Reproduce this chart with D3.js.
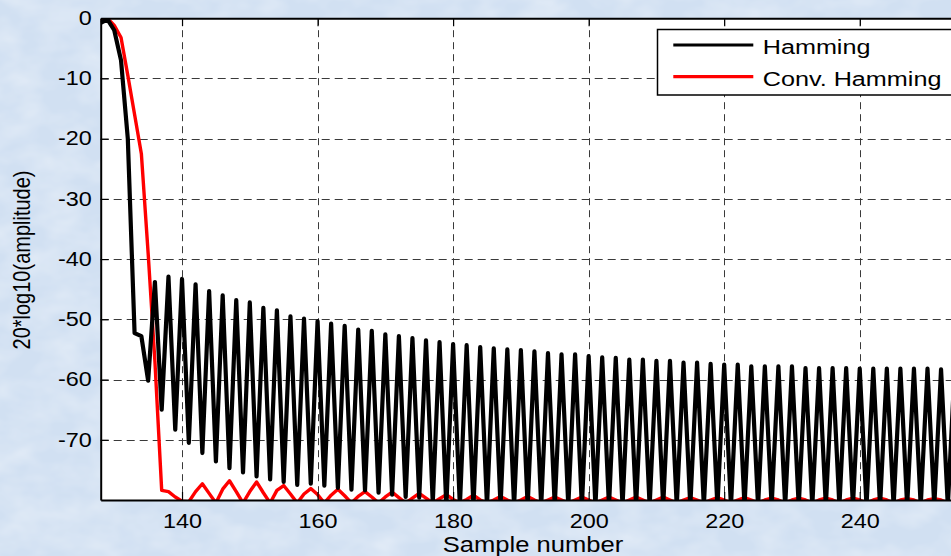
<!DOCTYPE html>
<html>
<head>
<meta charset="utf-8">
<script src="https://cdn.jsdelivr.net/npm/d3@7"></script>
<style>
  html, body { margin: 0; padding: 0; background: #dae6f4; }
  svg { display: block; font-family: "Liberation Sans", Arial, sans-serif; }
</style>
</head>
<body>
<svg id="chart" width="951" height="556"></svg>
<script>
// samples 128..256 (one value per sample)
var startSample = 128;

var hamming = [
  -0.8, -0.2, -2.0, -7.0, -20.0, -52.3, -52.8, -60.2,      // 128-135
  -43.8, -65.0, -42.9, -68.3, -43.3, -70.5, -44.2, -72.2,  // 136-143
  -45.3, -73.6, -46.0, -74.7, -46.8, -75.4, -47.2, -76.1,  // 144-151
  -48.1, -76.6, -48.5, -77.0, -49.5, -77.5, -49.9, -77.3,  // 152-159
  -50.3, -77.6, -50.7, -78.0, -51.1, -78.3, -51.7, -78.4,  // 160-167
  -51.9, -78.8, -52.5, -79.1, -52.8, -79.5, -53.1, -79.6,  // 168-175
  -53.5, -80.5, -53.8, -81.0, -54.1, -81.0, -54.3, -81.0,  // 176-183
  -54.6, -81.0, -54.8, -81.0, -55.0, -81.0, -55.1, -81.0,  // 184-191
  -55.3, -81.0, -55.6, -81.0, -55.8, -81.0, -55.8, -81.0,  // 192-199
  -56.1, -81.0, -56.3, -81.0, -56.4, -81.0, -56.7, -81.0,  // 200-207
  -56.7, -81.0, -56.9, -81.0, -56.9, -81.0, -57.2, -81.0,  // 208-215
  -57.2, -81.0, -57.4, -81.0, -57.5, -81.0, -57.5, -81.0,  // 216-223
  -57.8, -81.0, -57.8, -81.0, -57.8, -81.0, -57.8, -81.0,  // 224-231
  -58.1, -81.0, -58.1, -81.0, -58.1, -81.0, -58.1, -81.0,  // 232-239
  -58.2, -81.0, -58.2, -81.0, -58.2, -81.0, -58.2, -81.0,  // 240-247
  -58.2, -81.0, -58.2, -81.0, -58.3, -81.0, -58.3, -81.0,  // 248-255
  -58.4                                                    // 256
];

var convHamming = [
  -0.5, 0.0, -1.2, -3.2, -9.5, -16.0, -22.5, -39.0,        // 128-135
  -57.0, -78.4, -78.6, -79.5, -80.2, -80.3, -78.6, -77.3,  // 136-143
  -78.9, -80.5, -78.2, -76.8, -78.6, -80.5, -78.6, -77.0,  // 144-151
  -78.8, -80.5, -78.4, -77.6, -79.0, -80.5, -79.0, -78.1,  // 152-159
  -79.1, -80.5, -79.2, -78.2, -79.3, -80.5, -79.4, -78.6,  // 160-167
  -79.5, -80.5, -79.5, -78.7, -79.6, -80.5, -79.7, -78.9,  // 168-175
  -79.7, -80.5, -79.8, -79.1, -79.9, -80.5, -79.9, -79.2,  // 176-183
  -80.0, -80.5, -80.0, -79.4, -80.0, -80.5, -80.0, -79.4,  // 184-191
  -80.0, -80.5, -80.0, -79.5, -80.0, -80.5, -80.0, -79.5,  // 192-199
  -80.0, -80.5, -80.0, -79.5, -80.0, -80.5, -80.0, -79.5,  // 200-207
  -80.0, -80.5, -80.0, -79.5, -80.0, -80.5, -80.0, -79.6,  // 208-215
  -80.0, -80.5, -80.0, -79.6, -80.0, -80.5, -80.0, -79.6,  // 216-223
  -80.0, -80.5, -80.0, -79.7, -80.0, -80.5, -80.0, -79.7,  // 224-231
  -80.0, -80.5, -80.0, -79.7, -80.0, -80.5, -80.0, -79.7,  // 232-239
  -80.0, -80.5, -80.0, -79.7, -80.0, -80.5, -80.0, -79.8,  // 240-247
  -80.0, -80.5, -80.0, -79.8, -80.0, -80.5, -80.0, -79.8,  // 248-255
  -80.0                                                    // 256
];

var xTicks = [140, 160, 180, 200, 220, 240];
var yTicks = [-70, -60, -50, -40, -30, -20, -10, 0];
var seriesNames = ["Hamming", "Conv. Hamming"];
var seriesColors = ["#000000", "#ff0000"];

var svg = d3.select("#chart");
var W = 951, H = 556;
var stretch = 1.2;   // the picture is a bit wider than tall, text too

// mottled light blue backdrop
var defs = svg.append("defs");
var f = defs.append("filter").attr("id", "mottle")
    .attr("x", 0).attr("y", 0).attr("width", 1).attr("height", 1);
f.append("feTurbulence").attr("type", "fractalNoise")
    .attr("baseFrequency", "0.025 0.04").attr("numOctaves", 3).attr("seed", 7);
f.append("feColorMatrix").attr("type", "matrix")
    .attr("values", "0 0 0 0 1  0 0 0 0 1  0 0 0 0 1  0 0 0 0.6 -0.2");
f.append("feComposite").attr("in2", "SourceGraphic").attr("operator", "in");

svg.append("rect").attr("width", W).attr("height", H).attr("fill", "#d1e0f2");
svg.append("rect").attr("width", W).attr("height", H).attr("fill", "#ffffff")
    .attr("filter", "url(#mottle)");

// scales
var pLeft = 100.7, pTop = 18.2, pBottom = 500;
var x = d3.scaleLinear().domain([128, 256]).range([pLeft, pLeft + 128 * 6.777]);
var y = d3.scaleLinear().domain([-80, 0]).range([pBottom, pTop]);
var pRight = x(256);

// plot area
svg.append("rect")
    .attr("x", pLeft).attr("y", pTop)
    .attr("width", pRight - pLeft).attr("height", pBottom - pTop)
    .attr("fill", "#ffffff");

defs.append("clipPath").attr("id", "plotclip")
  .append("rect")
    .attr("x", pLeft).attr("y", pTop)
    .attr("width", pRight - pLeft).attr("height", pBottom - pTop);

// grid
var grid = svg.append("g").attr("stroke", "#3a3a3a").attr("stroke-width", 1);
grid.selectAll(".vg").data(xTicks).enter().append("line")
    .attr("class", "vg")
    .attr("x1", d => Math.round(x(d)) + 0.5).attr("x2", d => Math.round(x(d)) + 0.5)
    .attr("y1", pTop).attr("y2", pBottom)
    .attr("stroke-dasharray", "7,5");
grid.selectAll(".hg").data(yTicks.filter(d => d > -80 && d < 0)).enter().append("line")
    .attr("class", "hg")
    .attr("y1", d => Math.round(y(d)) + 0.5).attr("y2", d => Math.round(y(d)) + 0.5)
    .attr("x1", pLeft).attr("x2", pRight)
    .attr("stroke-dasharray", "8,5");

// lines
var line = d3.line()
    .x((d, i) => x(startSample + i))
    .y(d => y(d));

var plot = svg.append("g").attr("clip-path", "url(#plotclip)");
plot.append("path")
    .datum(convHamming)
    .attr("d", line)
    .attr("fill", "none")
    .attr("stroke", seriesColors[1])
    .attr("stroke-width", 3.4)
    .attr("stroke-linejoin", "round");
plot.append("path")
    .datum(hamming)
    .attr("d", line)
    .attr("fill", "none")
    .attr("stroke", seriesColors[0])
    .attr("stroke-width", 4.2)
    .attr("stroke-linejoin", "round");

// axes: matlab style box with inward ticks, plain hyphen minus
var fmt = d => String(d);
var xAxisB = d3.axisBottom(x).tickValues(xTicks).tickSizeInner(-8).tickSizeOuter(0).tickPadding(14).tickFormat(fmt);
var xAxisT = d3.axisTop(x).tickValues(xTicks).tickSizeInner(-8).tickSizeOuter(0).tickFormat("");
var yAxisL = d3.axisLeft(y).tickValues(yTicks).tickSizeInner(-8).tickSizeOuter(0).tickPadding(12).tickFormat(fmt);

var gb = svg.append("g").attr("transform", "translate(0," + pBottom + ")").call(xAxisB);
var gt = svg.append("g").attr("transform", "translate(0," + pTop + ")").call(xAxisT);
var gl = svg.append("g").attr("transform", "translate(" + pLeft + ",0)").call(yAxisL);

[gb, gt, gl].forEach(function(g) {
    g.select(".domain").attr("stroke", "#000").attr("stroke-width", 2);
    g.selectAll(".tick line").attr("stroke", "#000").attr("stroke-width", 1.2);
    g.selectAll("text").attr("fill", "#000").style("font-size", "19.5px")
        .style("font-family", "'Liberation Sans', Arial, sans-serif");
});
gb.selectAll(".tick text").attr("transform", "scale(" + stretch + ",1)").attr("dy", "0.71em");
gl.selectAll(".tick text").each(function() {
    var t = d3.select(this);
    t.attr("x", (+t.attr("x") + 3) / stretch).attr("transform", "scale(" + stretch + ",1)");
});

// axis labels
svg.append("text")
    .attr("transform", "translate(533,552) scale(" + stretch + ",1)")
    .attr("text-anchor", "middle")
    .style("font-size", "21.3px")
    .text("Sample number");

svg.append("text")
    .attr("transform", "translate(30," + 260 + ") scale(" + stretch + ",1) rotate(-90)")
    .attr("text-anchor", "middle")
    .style("font-size", "20px")
    .text("20*log10(amplitude)");

// legend
var lg = svg.append("g");
lg.append("rect")
    .attr("x", 657.5).attr("y", 29.5)
    .attr("width", 320).attr("height", 65.5)
    .attr("fill", "#ffffff").attr("stroke", "#000").attr("stroke-width", 1.5);
var items = lg.selectAll(".item").data(seriesNames).enter().append("g")
    .attr("class", "item")
    .attr("transform", (d, i) => "translate(0," + (45 + i * 31.7) + ")");
items.append("line")
    .attr("x1", 673.3).attr("x2", 753.3)
    .attr("stroke", (d, i) => seriesColors[i])
    .attr("stroke-width", 3.2);
items.append("text")
    .attr("transform", "translate(762.7,9.3) scale(" + stretch + ",1)")
    .style("font-size", "21px")
    .text(d => d);
</script>
</body>
</html>
